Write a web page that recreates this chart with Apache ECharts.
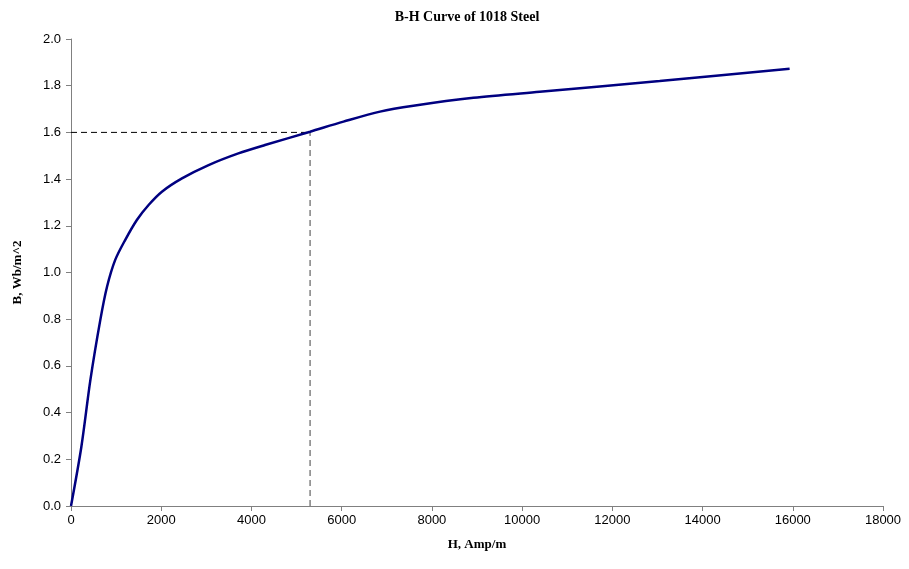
<!DOCTYPE html>
<html><head><meta charset="utf-8">
<script src="https://cdn.jsdelivr.net/npm/echarts@6/dist/echarts.min.js"></script>
<style>html,body{margin:0;padding:0;background:#fff}#c{width:909px;height:569px}</style>
</head><body><div id="c"></div>
<script>
const H = [0, 230, 430, 650, 800, 980, 1200, 1460, 1720, 2015, 2460, 3050, 3710, 4300, 5300, 6040, 6850, 7590, 8920, 10390, 13050, 15930];
const B = [0, 0.254, 0.54, 0.797, 0.94, 1.054, 1.139, 1.225, 1.289, 1.346, 1.403, 1.460, 1.510, 1.546, 1.603, 1.646, 1.689, 1.714, 1.748, 1.774, 1.820, 1.873];
const markH = 5300;
const markB = 1.6;
const xTicks = {min: 0, max: 18000, interval: 2000};
const yTicks = {min: 0, max: 2.0, interval: 0.2};

const chart = echarts.init(document.getElementById('c'), null, {renderer: 'canvas'});
const axisCommon = {
  axisLine: {show: true, lineStyle: {color: '#808080', width: 1}},
  axisTick: {show: true, inside: false, length: 5, lineStyle: {color: '#808080'}},
  splitLine: {show: false},
  axisLabel: {color: '#000', fontFamily: 'Liberation Sans, Arial, sans-serif', fontSize: 13}
};
chart.setOption({
  animation: false,
  title: {
    text: 'B-H Curve of 1018 Steel', left: 462, top: 5, textAlign: 'center',
    textStyle: {fontFamily: 'Liberation Serif, Times New Roman, serif', fontWeight: 'bold', fontSize: 14, color: '#000'}
  },
  grid: {left: 71, right: 26, top: 39, bottom: 63, containLabel: false},
  xAxis: Object.assign({}, axisCommon, {
    type: 'value', min: xTicks.min, max: xTicks.max, interval: xTicks.interval,
    name: 'H, Amp/m', nameLocation: 'middle', nameGap: 32,
    nameTextStyle: {fontFamily: 'Liberation Serif, Times New Roman, serif', fontWeight: 'bold', fontSize: 13, color: '#000'},
    axisLabel: Object.assign({}, axisCommon.axisLabel, {margin: 8, formatter: v => String(v)})
  }),
  yAxis: Object.assign({}, axisCommon, {
    type: 'value', min: yTicks.min, max: yTicks.max, interval: yTicks.interval,
    name: 'B, Wb/m^2', nameLocation: 'middle', nameGap: 47, nameRotate: 90,
    nameTextStyle: {fontFamily: 'Liberation Serif, Times New Roman, serif', fontWeight: 'bold', fontSize: 13, color: '#000'},
    axisLabel: Object.assign({}, axisCommon.axisLabel, {margin: 10, formatter: v => v.toFixed(1)})
  }),
  series: [
    {
      type: 'line', data: [[0, markB], [markH, markB]], symbol: 'none',
      lineStyle: {color: '#000', width: 1, type: [6, 4]}, z: 1
    },
    {
      type: 'line', data: [[markH, 0], [markH, markB]], symbol: 'none',
      lineStyle: {color: '#808080', width: 1.5, type: [6, 4]}, z: 1
    },
    {
      type: 'line', data: H.map((h, i) => [h, B[i]]), symbol: 'none', smooth: 0.3,
      lineStyle: {color: '#000080', width: 2.5}, z: 3
    }
  ]
});
</script></body></html>
